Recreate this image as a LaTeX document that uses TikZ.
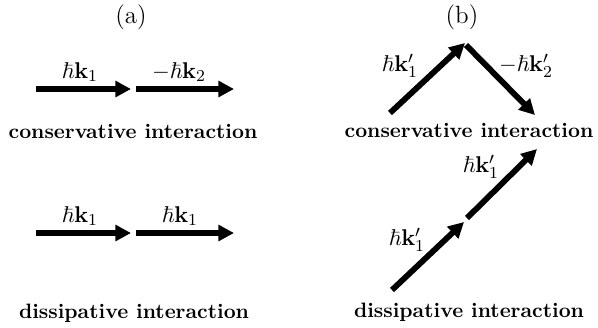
\documentclass[tikz,border=0pt]{standalone}
\usepackage{amsmath,amssymb}
\usepackage{tikz}
\usetikzlibrary{arrows.meta}

\begin{document}
\begin{tikzpicture}[x=0.4808pt,y=-0.4808pt,
    mom/.style={line width=2.8pt,-{Triangle[length=7.5pt,width=7.5pt]}},
    lab/.style={font=\fontsize{11}{13}\selectfont},
    title/.style={font=\bfseries,anchor=base}]
  \useasboundingbox (0,0) rectangle (598,327);
  % panel (a)
  \node[font=\large] (pa) at (131,17) {(a)};
  \coordinate (a0) at (36,89);  \coordinate (a1) at (131,89);
  \coordinate (a2) at (136,89); \coordinate (a3) at (234,89);
  \draw[mom] (a0) -- (a1);
  \draw[mom] (a2) -- (a3);
  \node[lab] (la1) at (80,72) {$\hbar\mathbf{k}_1$};
  \node[lab] (la2) at (179,72) {$-\hbar\mathbf{k}_2$};
  \node[title] (ca) at (133,138) {conservative interaction};
  \coordinate (d0) at (36,233);  \coordinate (d1) at (131,233);
  \coordinate (d2) at (136,233); \coordinate (d3) at (234,233);
  \draw[mom] (d0) -- (d1);
  \draw[mom] (d2) -- (d3);
  \node[lab] (ld1) at (80,216) {$\hbar\mathbf{k}_1$};
  \node[lab] (ld2) at (180,216) {$\hbar\mathbf{k}_1$};
  \node[title] (da) at (134,318) {dissipative interaction};
  % panel (b)
  \node[font=\large] (pb) at (462,17) {(b)};
  \coordinate (b0) at (390,113); \coordinate (b1) at (465,43);
  \coordinate (b2) at (466,45);  \coordinate (b3) at (535,115);
  \draw[mom] (b0) -- (b1);
  \draw[mom] (b2) -- (b3);
  \node[lab] (lb1) at (400,66) {$\hbar\mathbf{k}_1'$};
  \node[lab] (lb2) at (526,66) {$-\hbar\mathbf{k}_2'$};
  \node[title] (cb) at (469,137) {conservative interaction};
  \coordinate (e0) at (392,290); \coordinate (e1) at (464,222);
  \coordinate (e2) at (467,218); \coordinate (e3) at (537,149);
  \draw[mom] (e0) -- (e1);
  \draw[mom] (e2) -- (e3);
  \node[lab] (le1) at (407,240) {$\hbar\mathbf{k}_1'$};
  \node[lab] (le2) at (481,167) {$\hbar\mathbf{k}_1'$};
  \node[title] (db) at (469,317) {dissipative interaction};
\end{tikzpicture}
\end{document}
